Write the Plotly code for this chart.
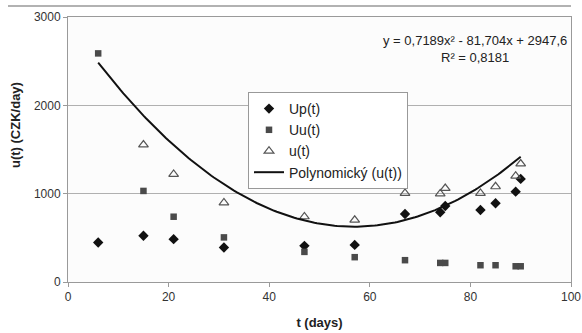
import plotly.graph_objects as go

# Data
t_up = [6, 15, 21, 31, 47, 57, 67, 74, 75, 82, 85, 89, 90]
up_vals = [448, 523, 485, 391, 409, 420, 769, 789, 860, 815, 891, 1023, 1167]

t_uu = [6, 15, 21, 31, 47, 57, 67, 74, 75, 82, 85, 89, 90]
uu_vals = [2588, 1031, 739, 505, 341, 281, 247, 216, 216, 190, 190, 178, 178]

t_u = [15, 21, 31, 47, 57, 67, 74, 75, 82, 85, 89, 90]
u_vals = [1553, 1220, 898, 740, 701, 1005, 1000, 1061, 1005, 1080, 1201, 1338]

# Polynomial trend coefficients (a2, a1, a0) as printed on chart
poly_coef = [0.7189, -81.704, 2947.6]
trend_x = [6 + i * 0.5 for i in range(169)]  # 6 .. 90
trend_y = [poly_coef[0] * x * x + poly_coef[1] * x + poly_coef[2] for x in trend_x]

x_ticks = [0, 20, 40, 60, 80, 100]
y_ticks = [0, 1000, 2000, 3000]

FONT = "Liberation Sans, Arial, sans-serif"

fig = go.Figure()
fig.add_trace(go.Scatter(x=t_up, y=up_vals, mode="markers", name="Up(t)",
                         marker=dict(symbol="diamond", size=8, color="#111111")))
fig.add_trace(go.Scatter(x=t_uu, y=uu_vals, mode="markers", name="Uu(t)",
                         marker=dict(symbol="square", size=6.5, color="#4a4a4a")))
fig.add_trace(go.Scatter(x=t_u, y=u_vals, mode="markers", name="u(t)",
                         marker=dict(symbol="triangle-up-open", size=8.5,
                                     color="#555555", line=dict(width=1.2))))
fig.add_trace(go.Scatter(x=trend_x, y=trend_y, mode="lines", name="Polynomický (u(t))",
                         line=dict(color="#111111", width=2)))

L, R, T, B = 68, 11, 17, 51
W, H = 582, 333
pw = W - L - R
ph = H - T - B

fig.update_layout(
    width=W, height=H,
    margin=dict(l=L, r=R, t=T, b=B, autoexpand=False),
    paper_bgcolor="white",
    plot_bgcolor="#fcfcfc",
    font=dict(family=FONT, size=12, color="#333333"),
    showlegend=True,
    legend=dict(x=(248 - L) / pw, y=(H - B - 92) / ph, xanchor="left", yanchor="top",
                bgcolor="white", bordercolor="#999999", borderwidth=1,
                font=dict(size=14, color="#222222"),
                tracegroupgap=0, itemwidth=30),
    xaxis=dict(range=[0, 100], tickvals=x_ticks, showgrid=False, zeroline=False,
               showline=True, linecolor="#9a9a9a", linewidth=1, mirror=True,
               ticks="outside", ticklen=4, tickcolor="#9a9a9a", automargin=False,
               tickfont=dict(size=12, color="#333333"),
               title=dict(text="<b>t (days)</b>", font=dict(size=13, color="#222222"), standoff=14)),
    yaxis=dict(range=[0, 3000], tickvals=y_ticks, showgrid=True, gridcolor="#b0b0b0",
               zeroline=False, showline=True, linecolor="#9a9a9a", linewidth=1, mirror=True,
               ticks="outside", ticklen=4, tickcolor="#9a9a9a", automargin=False,
               tickfont=dict(size=12, color="#333333")),
    annotations=[
        dict(text="y = 0,7189x² - 81,704x + 2947,6<br>R² = 0,8181",
             xref="paper", yref="paper", x=(569 - L) / pw, y=(H - B - 49) / ph,
             xanchor="right", yanchor="middle", align="center", showarrow=False,
             font=dict(size=13, color="#222222")),
        dict(text="<b>u(t) (CZK/day)</b>", textangle=-90,
             xref="paper", yref="paper", x=(15 - L) / pw, y=(H - B - 125) / ph,
             xanchor="center", yanchor="middle", showarrow=False,
             font=dict(size=13, color="#222222")),
    ],
    shapes=[dict(type="line", xref="paper", yref="paper",
                 x0=(8 - L) / pw, x1=1.0, y0=(H - B - 6) / ph, y1=(H - B - 6) / ph,
                 line=dict(color="#999999", width=1.5))],
)

fig.write_html("out.html")
